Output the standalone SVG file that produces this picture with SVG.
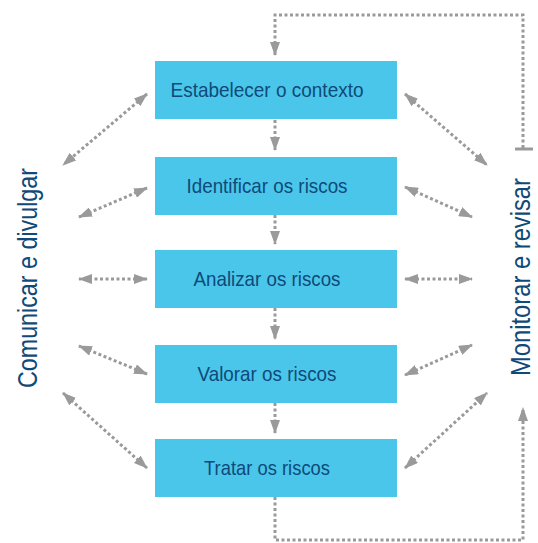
<svg xmlns="http://www.w3.org/2000/svg" width="538" height="543" viewBox="0 0 538 543">
<style>
.box{fill:#4ac6ea}
.t{font-family:"Liberation Sans",Arial,sans-serif;font-size:21px;fill:#0f4a78;text-anchor:middle}
.side{font-family:"Liberation Sans",Arial,sans-serif;font-size:27px;fill:#0f4a78;text-anchor:middle}
.c{fill:none;stroke:#9a9a9c;stroke-width:3;stroke-dasharray:3 2.5}
</style>
<defs>
<marker id="ah" viewBox="0 0 14 10" refX="13" refY="5" markerWidth="14" markerHeight="10" markerUnits="userSpaceOnUse" orient="auto-start-reverse">
<path d="M0,0 L14,5 L0,10 Z" fill="#9a9a9c"/>
</marker>
</defs>
<rect width="538" height="543" fill="#fff"/>
<g id="connectors">
<path class="c" d="M275,120 V150" marker-end="url(#ah)"/>
<path class="c" d="M275,215 V244" marker-end="url(#ah)"/>
<path class="c" d="M275,308 V339" marker-end="url(#ah)"/>
<path class="c" d="M275,403 V433" marker-end="url(#ah)"/>
<path class="c" d="M523,148 V15 H275 V55" marker-end="url(#ah)"/>
<path d="M515,149 H533" stroke="#9a9a9c" stroke-width="3"/>
<path class="c" d="M275,497 V540 H523 V408" marker-end="url(#ah)"/>
<path class="c" d="M147,94 L63,165" marker-start="url(#ah)" marker-end="url(#ah)"/>
<path class="c" d="M147,188 L79,217" marker-start="url(#ah)" marker-end="url(#ah)"/>
<path class="c" d="M147,279 L79,279" marker-start="url(#ah)" marker-end="url(#ah)"/>
<path class="c" d="M147,374 L79,346" marker-start="url(#ah)" marker-end="url(#ah)"/>
<path class="c" d="M147,468 L63,393" marker-start="url(#ah)" marker-end="url(#ah)"/>
<path class="c" d="M405,94 L487,165" marker-start="url(#ah)" marker-end="url(#ah)"/>
<path class="c" d="M405,187 L472,217" marker-start="url(#ah)" marker-end="url(#ah)"/>
<path class="c" d="M405,279 L472,279" marker-start="url(#ah)" marker-end="url(#ah)"/>
<path class="c" d="M405,375 L472,345" marker-start="url(#ah)" marker-end="url(#ah)"/>
<path class="c" d="M405,468 L487,393" marker-start="url(#ah)" marker-end="url(#ah)"/>
</g>
<g id="n1"><rect class="box" x="155" y="61" width="242" height="58"/><text class="t" x="267" y="97" textLength="193" lengthAdjust="spacingAndGlyphs">Estabelecer o contexto</text></g>
<g id="n2"><rect class="box" x="155" y="157" width="242" height="58"/><text class="t" x="267" y="193" textLength="161" lengthAdjust="spacingAndGlyphs">Identificar os riscos</text></g>
<g id="n3"><rect class="box" x="155" y="250" width="242" height="58"/><text class="t" x="267" y="286" textLength="147" lengthAdjust="spacingAndGlyphs">Analizar os riscos</text></g>
<g id="n4"><rect class="box" x="155" y="345" width="242" height="58"/><text class="t" x="267" y="381" textLength="139" lengthAdjust="spacingAndGlyphs">Valorar os riscos</text></g>
<g id="n5"><rect class="box" x="155" y="439" width="242" height="58"/><text class="t" x="267" y="475" textLength="126" lengthAdjust="spacingAndGlyphs">Tratar os riscos</text></g>
<g id="left"><text class="side" transform="translate(37,278) rotate(-90)" textLength="220" lengthAdjust="spacingAndGlyphs">Comunicar e divulgar</text></g>
<g id="right"><text class="side" transform="translate(530,277) rotate(-90)" textLength="198" lengthAdjust="spacingAndGlyphs">Monitorar e revisar</text></g>
</svg>
